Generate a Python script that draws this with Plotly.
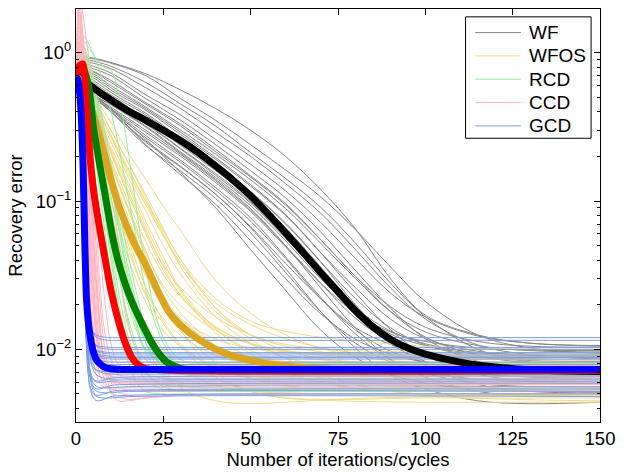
import plotly.graph_objects as go

# ---------------- WF (Wirtinger flow) ----------------
x_wf = [0, 5, 10, 20, 30, 40, 50, 60, 70, 80, 90, 100, 115, 130, 150]
wf_trials = [
    [0.95, 0.92, 0.86, 0.72, 0.56, 0.42, 0.30, 0.20, 0.12, 0.065, 0.030, 0.017, 0.0125, 0.011, 0.0105],
    [0.96, 0.91, 0.85, 0.70, 0.49, 0.35, 0.24, 0.162, 0.107, 0.064, 0.036, 0.021, 0.0125, 0.0102, 0.0094],
    [0.93, 0.88, 0.81, 0.63, 0.45, 0.32, 0.212, 0.142, 0.091, 0.052, 0.028, 0.0166, 0.0100, 0.0082, 0.0076],
    [0.91, 0.85, 0.78, 0.58, 0.42, 0.29, 0.20, 0.131, 0.083, 0.047, 0.026, 0.016, 0.0107, 0.0092, 0.0086],
    [0.88, 0.81, 0.73, 0.52, 0.38, 0.26, 0.177, 0.117, 0.072, 0.041, 0.024, 0.0165, 0.0123, 0.0110, 0.0106],
    [0.85, 0.78, 0.70, 0.49, 0.35, 0.24, 0.160, 0.105, 0.062, 0.034, 0.019, 0.0118, 0.0083, 0.0072, 0.0069],
    [0.83, 0.75, 0.65, 0.46, 0.33, 0.223, 0.148, 0.096, 0.055, 0.031, 0.018, 0.0121, 0.0091, 0.0081, 0.0079],
    [0.81, 0.74, 0.63, 0.45, 0.32, 0.215, 0.145, 0.094, 0.055, 0.031, 0.0194, 0.0141, 0.0113, 0.0105, 0.0103],
    [0.79, 0.72, 0.60, 0.43, 0.30, 0.207, 0.139, 0.089, 0.052, 0.030, 0.018, 0.0131, 0.0106, 0.0098, 0.0096],
    [0.78, 0.70, 0.58, 0.42, 0.29, 0.196, 0.129, 0.081, 0.045, 0.024, 0.0136, 0.0091, 0.0068, 0.0061, 0.0059],
    [0.77, 0.68, 0.56, 0.41, 0.28, 0.191, 0.126, 0.080, 0.045, 0.026, 0.016, 0.0118, 0.0097, 0.0091, 0.0089],
    [0.74, 0.65, 0.54, 0.39, 0.265, 0.18, 0.116, 0.071, 0.039, 0.020, 0.0116, 0.0078, 0.0058, 0.0052, 0.0051],
    [0.74, 0.63, 0.52, 0.38, 0.258, 0.175, 0.115, 0.070, 0.039, 0.022, 0.014, 0.0107, 0.0089, 0.0084, 0.0083],
    [0.72, 0.60, 0.51, 0.357, 0.247, 0.166, 0.109, 0.066, 0.036, 0.0196, 0.0121, 0.0090, 0.0073, 0.0068, 0.0067],
    [0.70, 0.58, 0.49, 0.35, 0.237, 0.16, 0.105, 0.062, 0.034, 0.019, 0.0122, 0.0094, 0.0079, 0.0074, 0.0073],
    [0.70, 0.56, 0.476, 0.336, 0.226, 0.153, 0.099, 0.057, 0.031, 0.017, 0.0109, 0.0083, 0.0069, 0.0065, 0.0064],
    [0.70, 0.54, 0.46, 0.33, 0.224, 0.149, 0.097, 0.056, 0.032, 0.019, 0.0133, 0.0109, 0.0095, 0.0092, 0.0091],
    [0.69, 0.52, 0.445, 0.315, 0.21, 0.14, 0.089, 0.050, 0.026, 0.0139, 0.0086, 0.0065, 0.0052, 0.0049, 0.0048],
    [0.69, 0.52, 0.45, 0.32, 0.214, 0.144, 0.093, 0.054, 0.030, 0.018, 0.0127, 0.0106, 0.0093, 0.0090, 0.0089],
    [0.70, 0.51, 0.43, 0.30, 0.206, 0.137, 0.087, 0.050, 0.028, 0.0162, 0.0113, 0.0093, 0.0081, 0.0079, 0.0078],
    [0.68, 0.49, 0.42, 0.29, 0.20, 0.133, 0.085, 0.049, 0.028, 0.0176, 0.0131, 0.0113, 0.0102, 0.0099, 0.0098],
    [0.70, 0.52, 0.42, 0.276, 0.188, 0.123, 0.077, 0.042, 0.0225, 0.0127, 0.0085, 0.0069, 0.0059, 0.0056, 0.0055],
    [0.69, 0.52, 0.41, 0.267, 0.182, 0.118, 0.073, 0.041, 0.022, 0.0135, 0.0097, 0.0082, 0.0072, 0.0070, 0.0069],
    [0.70, 0.51, 0.40, 0.254, 0.171, 0.111, 0.066, 0.035, 0.018, 0.0102, 0.0067, 0.0054, 0.0045, 0.0043, 0.0044],
    [0.69, 0.51, 0.40, 0.249, 0.169, 0.111, 0.067, 0.038, 0.022, 0.014, 0.0108, 0.0095, 0.0088, 0.0086, 0.0085],
    [0.70, 0.51, 0.40, 0.236, 0.159, 0.104, 0.061, 0.033, 0.018, 0.011, 0.0082, 0.0070, 0.0063, 0.0061, 0.0060],
    [0.70, 0.52, 0.42, 0.24, 0.15, 0.095, 0.054, 0.030, 0.0174, 0.0117, 0.0093, 0.0082, 0.0076, 0.0075, 0.0074],
    [0.70, 0.53, 0.42, 0.26, 0.155, 0.090, 0.047, 0.025, 0.0135, 0.0088, 0.0068, 0.0059, 0.0054, 0.0053, 0.0052],
]
x_wf_med = [0, 5, 10, 15, 20, 25, 30, 35, 40, 45, 50, 55, 60, 65, 70, 75, 80, 85, 90, 95, 100,
            110, 120, 135, 150]
wf_median = [0.72, 0.58, 0.48, 0.405, 0.35, 0.30, 0.255, 0.212, 0.172, 0.138, 0.108, 0.082, 0.061,
             0.045, 0.033, 0.0245, 0.0182, 0.0142, 0.0117, 0.0102, 0.0093, 0.0082, 0.0076, 0.0072, 0.0071]

# ---------------- WFOS ----------------
x_wfos = [0, 3, 6, 10, 15, 20, 25, 30, 40, 50, 60, 75, 100, 125, 150]
wfos_trials = [
    [0.70, 0.40, 0.19, 0.079, 0.027, 0.015, 0.0100, 0.0075, 0.0057, 0.0052, 0.0051, 0.0050, 0.0050, 0.0050, 0.0050],
    [0.70, 0.43, 0.226, 0.102, 0.041, 0.0207, 0.0134, 0.0104, 0.0075, 0.0066, 0.0064, 0.0063, 0.0062, 0.0062, 0.0062],
    [0.70, 0.45, 0.26, 0.126, 0.051, 0.023, 0.0149, 0.0104, 0.0065, 0.0052, 0.0047, 0.0045, 0.0044, 0.0044, 0.0044],
    [0.70, 0.47, 0.28, 0.142, 0.065, 0.031, 0.0212, 0.016, 0.0117, 0.0102, 0.0096, 0.0093, 0.0092, 0.0092, 0.0092],
    [0.70, 0.49, 0.31, 0.157, 0.077, 0.038, 0.0228, 0.016, 0.0106, 0.0083, 0.0074, 0.0070, 0.0068, 0.0068, 0.0068],
    [0.70, 0.51, 0.34, 0.18, 0.091, 0.046, 0.0256, 0.0176, 0.0106, 0.0078, 0.0066, 0.0059, 0.0057, 0.0056, 0.0056],
    [0.70, 0.52, 0.36, 0.21, 0.11, 0.060, 0.034, 0.0233, 0.0142, 0.0108, 0.0092, 0.0083, 0.0079, 0.0078, 0.0078],
    [0.70, 0.53, 0.385, 0.23, 0.132, 0.073, 0.042, 0.0253, 0.0138, 0.0093, 0.0070, 0.0057, 0.0050, 0.0049, 0.0048],
    [0.70, 0.55, 0.42, 0.27, 0.153, 0.094, 0.058, 0.0375, 0.0205, 0.0147, 0.0118, 0.0098, 0.0088, 0.0086, 0.0085],
    [0.70, 0.56, 0.45, 0.30, 0.18, 0.11, 0.065, 0.040, 0.022, 0.0155, 0.0132, 0.0117, 0.0105, 0.0101, 0.0100],
    [0.70, 0.58, 0.47, 0.34, 0.21, 0.14, 0.092, 0.063, 0.029, 0.0175, 0.0125, 0.0095, 0.0080, 0.0075, 0.0073],
    [0.70, 0.50, 0.33, 0.174, 0.087, 0.044, 0.027, 0.0198, 0.0134, 0.0109, 0.0098, 0.0092, 0.0091, 0.0090, 0.0090],
    [0.70, 0.45, 0.24, 0.117, 0.047, 0.024, 0.0162, 0.0124, 0.0091, 0.0080, 0.0076, 0.0075, 0.0074, 0.0074, 0.0074],
    [0.70, 0.53, 0.37, 0.216, 0.116, 0.064, 0.036, 0.0228, 0.0135, 0.0098, 0.0080, 0.0069, 0.0064, 0.0063, 0.0063],
    [0.70, 0.56, 0.43, 0.28, 0.165, 0.10, 0.063, 0.040, 0.019, 0.0117, 0.0087, 0.0062, 0.0049, 0.0046, 0.0045],
    [0.70, 0.41, 0.20, 0.085, 0.028, 0.012, 0.0075, 0.0055, 0.0045, 0.0043, 0.0044, 0.0046, 0.0048, 0.0049, 0.0049],
    [0.70, 0.48, 0.285, 0.145, 0.067, 0.032, 0.019, 0.0132, 0.0082, 0.0064, 0.0057, 0.0053, 0.0052, 0.0052, 0.0052],
    [0.70, 0.57, 0.45, 0.30, 0.18, 0.105, 0.060, 0.036, 0.018, 0.0125, 0.0105, 0.0094, 0.0090, 0.0089, 0.0089],
    [0.70, 0.51, 0.35, 0.19, 0.098, 0.053, 0.032, 0.0225, 0.0140, 0.0110, 0.0097, 0.0090, 0.0086, 0.0085, 0.0085],
    [0.70, 0.53, 0.38, 0.22, 0.125, 0.068, 0.039, 0.0245, 0.0128, 0.0086, 0.0070, 0.0063, 0.0061, 0.0060, 0.0060],
    [0.70, 0.48, 0.29, 0.15, 0.070, 0.035, 0.021, 0.0150, 0.0105, 0.0089, 0.0083, 0.0081, 0.0080, 0.0080, 0.0080],
    [0.70, 0.54, 0.40, 0.25, 0.145, 0.085, 0.050, 0.032, 0.0165, 0.0110, 0.0088, 0.0076, 0.0071, 0.0070, 0.0070],
    [0.70, 0.46, 0.27, 0.13, 0.055, 0.026, 0.0155, 0.0108, 0.0074, 0.0064, 0.0060, 0.0059, 0.0058, 0.0058, 0.0058],
    [0.70, 0.55, 0.42, 0.27, 0.160, 0.098, 0.060, 0.038, 0.019, 0.0125, 0.0098, 0.0084, 0.0079, 0.0078, 0.0078],
    [0.70, 0.51, 0.34, 0.18, 0.088, 0.042, 0.022, 0.0135, 0.0070, 0.0052, 0.0047, 0.0046, 0.0047, 0.0047, 0.0047],
    [0.70, 0.52, 0.36, 0.21, 0.11, 0.062, 0.037, 0.026, 0.0165, 0.0125, 0.0108, 0.0099, 0.0096, 0.0095, 0.0095],
]
x_wfos_med = [0, 2, 4, 6, 8, 10, 12, 14.5, 17, 20, 23, 26.5, 30, 35, 40, 45, 55, 70, 90, 150]
wfos_median = [0.70, 0.62, 0.45, 0.32, 0.21, 0.14, 0.097, 0.068, 0.050, 0.037, 0.026, 0.018, 0.0145,
               0.0117, 0.0100, 0.0090, 0.0080, 0.0074, 0.0072, 0.0072]

# ---------------- RCD ----------------
x_rcd = [0, 2, 4, 6, 8, 10, 12, 14, 17, 20, 25, 30, 40, 60, 150]
rcd_trials = [
    [0.75, 0.85, 0.40, 0.16, 0.070, 0.032, 0.017, 0.011, 0.0078, 0.0068, 0.0064, 0.0063, 0.0063, 0.0063, 0.0063],
    [0.75, 0.95, 0.60, 0.30, 0.15, 0.075, 0.040, 0.024, 0.014, 0.0098, 0.0080, 0.0076, 0.0075, 0.0075, 0.0075],
    [0.75, 0.80, 0.55, 0.28, 0.14, 0.070, 0.035, 0.019, 0.010, 0.0070, 0.0056, 0.0053, 0.0052, 0.0052, 0.0052],
    [0.75, 1.20, 1.05, 0.90, 0.80, 0.76, 0.55, 0.30, 0.10, 0.035, 0.012, 0.0085, 0.0080, 0.0080, 0.0080],
    [0.75, 1.00, 0.75, 0.45, 0.25, 0.13, 0.070, 0.038, 0.018, 0.011, 0.0075, 0.0068, 0.0066, 0.0066, 0.0066],
    [0.75, 0.90, 0.50, 0.22, 0.10, 0.045, 0.022, 0.013, 0.0085, 0.0072, 0.0069, 0.0069, 0.0069, 0.0069, 0.0069],
    [0.75, 0.88, 0.65, 0.38, 0.21, 0.11, 0.058, 0.032, 0.016, 0.0095, 0.0065, 0.0057, 0.0055, 0.0055, 0.0055],
    [0.75, 1.10, 0.85, 0.55, 0.32, 0.18, 0.10, 0.055, 0.026, 0.014, 0.0088, 0.0082, 0.0081, 0.0081, 0.0081],
    [0.75, 0.82, 0.45, 0.20, 0.090, 0.040, 0.019, 0.010, 0.0062, 0.0052, 0.0050, 0.0050, 0.0050, 0.0050, 0.0050],
    [0.75, 0.98, 0.70, 0.42, 0.24, 0.13, 0.072, 0.040, 0.020, 0.011, 0.0068, 0.0060, 0.0058, 0.0058, 0.0058],
    [0.75, 0.92, 0.62, 0.35, 0.18, 0.090, 0.048, 0.027, 0.015, 0.010, 0.0090, 0.0088, 0.0088, 0.0088, 0.0088],
    [0.75, 1.30, 1.10, 0.85, 0.60, 0.40, 0.25, 0.14, 0.060, 0.025, 0.011, 0.0078, 0.0070, 0.0069, 0.0069],
    [0.75, 0.86, 0.58, 0.30, 0.15, 0.075, 0.038, 0.020, 0.011, 0.0070, 0.0058, 0.0056, 0.0057, 0.0058, 0.0058],
    [0.75, 1.05, 0.80, 0.50, 0.28, 0.15, 0.080, 0.045, 0.022, 0.012, 0.0078, 0.0072, 0.0071, 0.0071, 0.0071],
    [0.75, 0.85, 0.48, 0.22, 0.11, 0.052, 0.026, 0.015, 0.0085, 0.0062, 0.0054, 0.0052, 0.0053, 0.0054, 0.0054],
]
x_rcd_med = [0, 2, 3.7, 5.1, 7.1, 8.8, 10.5, 12, 14, 16, 18, 20, 22, 24, 26, 30, 40, 150]
rcd_median = [0.75, 0.78, 0.58, 0.30, 0.16, 0.095, 0.057, 0.040, 0.028, 0.021, 0.0165, 0.0132,
              0.0108, 0.0092, 0.0082, 0.0074, 0.0072, 0.0072]

# ---------------- CCD ----------------
x_ccd = [0, 1, 2, 3, 4, 5, 6, 7, 8, 10, 12, 15, 20, 30, 50, 150]
ccd_trials = [
    [0.70, 1.30, 0.30, 0.060, 0.022, 0.012, 0.0088, 0.0075, 0.0070, 0.0066, 0.0065, 0.0064, 0.0064, 0.0064, 0.0064, 0.0064],
    [0.70, 1.90, 0.60, 0.14, 0.045, 0.020, 0.012, 0.0090, 0.0080, 0.0073, 0.0071, 0.0071, 0.0071, 0.0071, 0.0071, 0.0071],
    [0.70, 0.95, 0.45, 0.12, 0.035, 0.014, 0.0085, 0.0065, 0.0058, 0.0054, 0.0053, 0.0053, 0.0053, 0.0053, 0.0053, 0.0053],
    [0.70, 1.50, 0.80, 0.25, 0.080, 0.030, 0.014, 0.0085, 0.0064, 0.0052, 0.0048, 0.0046, 0.0047, 0.0049, 0.0050, 0.0050],
    [0.70, 2.40, 1.20, 0.40, 0.14, 0.055, 0.024, 0.013, 0.0090, 0.0068, 0.0060, 0.0058, 0.0058, 0.0058, 0.0058, 0.0058],
    [0.70, 1.05, 0.50, 0.16, 0.050, 0.020, 0.011, 0.0090, 0.0085, 0.0083, 0.0082, 0.0082, 0.0082, 0.0082, 0.0082, 0.0082],
    [0.70, 1.20, 0.70, 0.30, 0.12, 0.050, 0.022, 0.012, 0.0085, 0.0070, 0.0067, 0.0066, 0.0066, 0.0066, 0.0066, 0.0066],
    [0.70, 1.70, 1.00, 0.45, 0.20, 0.090, 0.040, 0.019, 0.011, 0.0065, 0.0056, 0.0053, 0.0052, 0.0052, 0.0053, 0.0053],
    [0.70, 1.00, 0.40, 0.090, 0.025, 0.011, 0.0075, 0.0065, 0.0062, 0.0060, 0.0060, 0.0060, 0.0060, 0.0060, 0.0060, 0.0060],
    [0.70, 2.50, 1.80, 1.20, 0.85, 0.62, 0.48, 0.38, 0.30, 0.15, 0.055, 0.014, 0.0085, 0.0078, 0.0078, 0.0078],
    [0.70, 1.40, 0.90, 0.40, 0.15, 0.060, 0.026, 0.013, 0.0085, 0.0060, 0.0052, 0.0049, 0.0048, 0.0049, 0.0050, 0.0050],
    [0.70, 1.10, 0.60, 0.22, 0.070, 0.026, 0.013, 0.0100, 0.0092, 0.0089, 0.0088, 0.0088, 0.0088, 0.0088, 0.0088, 0.0088],
    [0.70, 1.60, 1.10, 0.60, 0.28, 0.12, 0.055, 0.025, 0.014, 0.0085, 0.0068, 0.0063, 0.0062, 0.0062, 0.0062, 0.0062],
    [0.70, 0.90, 0.30, 0.050, 0.016, 0.0085, 0.0065, 0.0058, 0.0056, 0.0055, 0.0055, 0.0055, 0.0055, 0.0055, 0.0055, 0.0055],
    [0.70, 1.30, 0.85, 0.40, 0.17, 0.070, 0.030, 0.014, 0.0080, 0.0052, 0.0045, 0.0045, 0.0047, 0.0049, 0.0050, 0.0050],
    [0.70, 1.80, 1.30, 0.75, 0.40, 0.20, 0.095, 0.045, 0.024, 0.011, 0.0080, 0.0073, 0.0072, 0.0072, 0.0072, 0.0072],
    [0.70, 1.20, 0.55, 0.18, 0.060, 0.022, 0.011, 0.0078, 0.0068, 0.0062, 0.0060, 0.0059, 0.0059, 0.0059, 0.0059, 0.0059],
    [0.70, 2.00, 1.00, 0.35, 0.11, 0.040, 0.017, 0.0095, 0.0072, 0.0062, 0.0059, 0.0058, 0.0058, 0.0058, 0.0058, 0.0058],
]
x_ccd_med = [0, 1, 2, 3, 4, 5, 6, 7, 8, 10, 12, 14, 16, 18, 20, 30, 150]
ccd_median = [0.70, 0.82, 0.84, 0.42, 0.20, 0.12, 0.084, 0.061, 0.045, 0.025, 0.0160, 0.0112,
              0.0088, 0.0078, 0.0074, 0.0072, 0.0072]

# ---------------- GCD ----------------
x_gcd = [0, 0.5, 1, 1.5, 2, 2.5, 3, 3.5, 4, 5, 6, 8, 10, 15, 150]
gcd_trials = [
    [0.69, 0.62, 0.45, 0.22, 0.08, 0.035, 0.022, 0.017, 0.015, 0.013, 0.0124, 0.0121, 0.0120, 0.0120, 0.0120],
    [0.69, 0.64, 0.50, 0.28, 0.11, 0.045, 0.025, 0.018, 0.015, 0.0128, 0.0120, 0.0116, 0.0115, 0.0115, 0.0115],
    [0.69, 0.60, 0.42, 0.20, 0.07, 0.030, 0.019, 0.015, 0.0128, 0.0112, 0.0106, 0.0104, 0.0103, 0.0103, 0.0103],
    [0.69, 0.63, 0.48, 0.26, 0.10, 0.040, 0.022, 0.016, 0.013, 0.0110, 0.0104, 0.0101, 0.0100, 0.0100, 0.0100],
    [0.69, 0.58, 0.38, 0.16, 0.055, 0.024, 0.016, 0.013, 0.0115, 0.0102, 0.0098, 0.0096, 0.0095, 0.0095, 0.0095],
    [0.69, 0.65, 0.52, 0.30, 0.12, 0.048, 0.024, 0.016, 0.013, 0.0105, 0.0097, 0.0094, 0.0093, 0.0093, 0.0093],
    [0.69, 0.61, 0.44, 0.21, 0.075, 0.030, 0.017, 0.013, 0.0112, 0.0097, 0.0093, 0.0091, 0.0090, 0.0090, 0.0090],
    [0.69, 0.63, 0.47, 0.25, 0.095, 0.038, 0.020, 0.014, 0.0115, 0.0097, 0.0091, 0.0089, 0.0088, 0.0088, 0.0088],
    [0.69, 0.59, 0.40, 0.18, 0.062, 0.026, 0.015, 0.0118, 0.0104, 0.0093, 0.0089, 0.0087, 0.0086, 0.0086, 0.0086],
    [0.69, 0.64, 0.50, 0.28, 0.11, 0.044, 0.021, 0.014, 0.0112, 0.0092, 0.0086, 0.0083, 0.0082, 0.0082, 0.0082],
    [0.69, 0.60, 0.43, 0.20, 0.07, 0.028, 0.015, 0.0112, 0.0098, 0.0086, 0.0082, 0.0080, 0.0079, 0.0079, 0.0079],
    [0.69, 0.62, 0.46, 0.23, 0.085, 0.034, 0.017, 0.0118, 0.0098, 0.0083, 0.0078, 0.0076, 0.0075, 0.0075, 0.0075],
    [0.69, 0.58, 0.38, 0.16, 0.052, 0.021, 0.012, 0.0093, 0.0083, 0.0075, 0.0072, 0.0071, 0.0070, 0.0070, 0.0070],
    [0.69, 0.63, 0.48, 0.26, 0.10, 0.040, 0.019, 0.012, 0.0095, 0.0078, 0.0072, 0.0069, 0.0068, 0.0068, 0.0068],
    [0.69, 0.61, 0.44, 0.21, 0.075, 0.028, 0.013, 0.0088, 0.0072, 0.0063, 0.0061, 0.0062, 0.0064, 0.0065, 0.0066],
    [0.69, 0.65, 0.52, 0.30, 0.12, 0.046, 0.020, 0.012, 0.0090, 0.0072, 0.0067, 0.0064, 0.0063, 0.0063, 0.0063],
    [0.69, 0.59, 0.40, 0.18, 0.060, 0.023, 0.011, 0.0080, 0.0068, 0.0062, 0.0060, 0.0060, 0.0061, 0.0061, 0.0061],
    [0.69, 0.62, 0.46, 0.23, 0.082, 0.030, 0.013, 0.0082, 0.0065, 0.0056, 0.0054, 0.0055, 0.0057, 0.0058, 0.0059],
    [0.69, 0.64, 0.50, 0.27, 0.10, 0.038, 0.016, 0.0095, 0.0072, 0.0059, 0.0056, 0.0055, 0.0055, 0.0056, 0.0056],
    [0.69, 0.60, 0.42, 0.19, 0.065, 0.024, 0.010, 0.0068, 0.0057, 0.0050, 0.0049, 0.0050, 0.0052, 0.0053, 0.0054],
    [0.69, 0.63, 0.48, 0.25, 0.095, 0.036, 0.015, 0.0088, 0.0066, 0.0055, 0.0052, 0.0051, 0.0051, 0.0052, 0.0052],
    [0.69, 0.61, 0.44, 0.21, 0.072, 0.026, 0.011, 0.0068, 0.0055, 0.0047, 0.0045, 0.0046, 0.0048, 0.0049, 0.0050],
    [0.69, 0.65, 0.53, 0.31, 0.12, 0.045, 0.018, 0.0098, 0.0068, 0.0052, 0.0048, 0.0047, 0.0047, 0.0048, 0.0048],
]
gcd_median = [0.69, 0.66, 0.55, 0.38, 0.18, 0.055, 0.022, 0.0155, 0.0125, 0.0096, 0.0084, 0.0076,
              0.0074, 0.0073, 0.0073]

methods = ["WF", "WFOS", "RCD", "CCD", "GCD"]
thin_colors = ["#878787", "#f0dc86", "#98f098", "#ffb6c1", "#7a9ee6"]
thick_colors = ["#000000", "#daa520", "#008000", "#ff0000", "#0000ff"]

trial_sets = [(x_wf, wf_trials), (x_wfos, wfos_trials), (x_rcd, rcd_trials),
              (x_ccd, ccd_trials), (x_gcd, gcd_trials)]
median_sets = [(x_wf_med, wf_median), (x_wfos_med, wfos_median), (x_rcd_med, rcd_median),
               (x_ccd_med, ccd_median), (x_gcd, gcd_median)]

fig = go.Figure()

# individual runs (thin lines)
for name, color, (xs, runs) in zip(methods, thin_colors, trial_sets):
    for ys in runs:
        fig.add_trace(go.Scatter(
            x=xs, y=ys, mode="lines", name=name, legendgroup=name,
            showlegend=False, hoverinfo="skip",
            line=dict(color=color, width=1, shape="spline", smoothing=1.0),
        ))

# median curves (thick lines)
for name, color, (xs, ys) in zip(methods, thick_colors, median_sets):
    fig.add_trace(go.Scatter(
        x=xs, y=ys, mode="lines", name=name + " median", showlegend=False,
        hoverinfo="skip",
        line=dict(color=color, width=7, shape="spline", smoothing=0.6),
    ))

FONT = "Liberation Sans, Arial, Helvetica, sans-serif"

# legend box drawn in plot-area (paper) coordinates, MATLAB style:
# thin sample line on the left, method name to its right
LEG_X0, LEG_X1, LEG_Y0, LEG_Y1 = 0.7434, 0.983, 0.687, 0.981
SAMPLE_X0, SAMPLE_X1, TEXT_X = 0.762, 0.849, 0.860
ROW_TOP, ROW_STEP = 0.943, 0.0565

shapes = [dict(type="rect", xref="paper", yref="paper",
               x0=LEG_X0, x1=LEG_X1, y0=LEG_Y0, y1=LEG_Y1,
               line=dict(color="black", width=1), fillcolor="white", layer="above")]
annotations = []
for i, (name, color) in enumerate(zip(methods, thin_colors)):
    yy = ROW_TOP - i * ROW_STEP
    shapes.append(dict(type="line", xref="paper", yref="paper",
                       x0=SAMPLE_X0, x1=SAMPLE_X1, y0=yy, y1=yy,
                       line=dict(color=color, width=1), layer="above"))
    annotations.append(dict(text=name, xref="paper", yref="paper", x=TEXT_X, y=yy,
                            xanchor="left", yanchor="middle", showarrow=False,
                            font=dict(family=FONT, size=19, color="black")))

minor_vals = ([k * 0.001 for k in range(4, 10)] + [k * 0.01 for k in range(2, 10)]
              + [k * 0.1 for k in range(2, 10)] + [2.0])

fig.update_layout(
    width=623, height=474,
    margin=dict(l=76, r=17, t=8, b=51),
    paper_bgcolor="white", plot_bgcolor="white",
    font=dict(family=FONT, size=18.5, color="black"),
    showlegend=False,
    shapes=shapes,
    annotations=annotations,
    xaxis=dict(
        range=[0, 150], tickvals=[0, 25, 50, 75, 100, 125, 150],
        ticks="inside", ticklen=6, tickcolor="black", mirror="ticks",
        showline=True, linecolor="black", linewidth=1.3,
        showgrid=False, zeroline=False,
        tickfont=dict(size=18.5),
        title=dict(text="Number of iterations/cycles", font=dict(size=18.5), standoff=4),
    ),
    yaxis=dict(
        type="log", range=[-2.49, 0.295],
        tickvals=[0.01, 0.1, 1],
        ticktext=["10<sup>−2</sup>", "10<sup>−1</sup>", "10<sup>0</sup>"],
        ticks="inside", ticklen=6, tickcolor="black", mirror="ticks",
        showline=True, linecolor="black", linewidth=1.3,
        showgrid=False, zeroline=False,
        tickfont=dict(size=18.5),
        minor=dict(tickvals=minor_vals, ticks="inside", ticklen=3,
                   tickcolor="black", showgrid=False),
        title=dict(text="Recovery error", font=dict(size=18.5), standoff=8),
    ),
)

fig.write_html("out.html")
